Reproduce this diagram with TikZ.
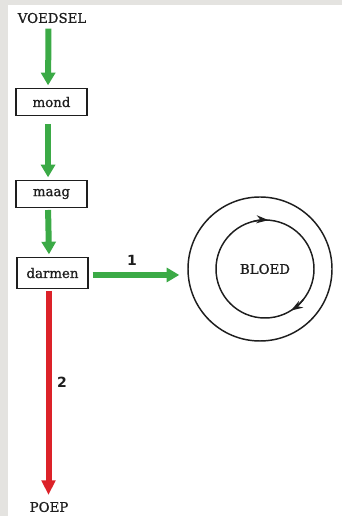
\documentclass[tikz,border=0pt]{standalone}
\usepackage{fontspec}
\setmainfont{DejaVu Serif}
\newfontfamily\labfont{DejaVu Serif}[AutoFakeBold=0.9]
\newfontfamily\numfont{DejaVu Sans}
\usetikzlibrary{arrows.meta}
\definecolor{bggray}{HTML}{E4E3E0}
\definecolor{agreen}{HTML}{3BAA46}
\definecolor{ared}{HTML}{DC2229}
\definecolor{ink}{HTML}{1E1E1E}
\begin{document}
\begin{tikzpicture}[x=0.75pt,y=0.75pt,
  box/.style={draw=ink, line width=1pt, minimum width=53.25pt, minimum height=20pt, inner sep=0pt, text=ink, font=\labfont\bfseries\fontsize{10}{12}\selectfont},
  lbl/.style={font=\labfont\bfseries\fontsize{10}{12}\selectfont, inner sep=0pt, text=ink},
  num/.style={font=\numfont\bfseries\fontsize{10.5}{12}\selectfont, inner sep=0pt, text=ink},
  garrow/.style={draw=agreen, line width=4.5pt, -{Triangle[length=9.5pt,width=10.5pt]}},
  rarrow/.style={draw=ared, line width=4.5pt, -{Triangle[length=11pt,width=10pt]}},
  ring/.style={circle, draw=ink, line width=1.1pt, inner sep=0pt},
  circtip/.style={draw=ink, line width=1.1pt, -{Stealth[length=9pt,width=6pt]}}
]
\fill[bggray] (0,0) rectangle (342,516);
\fill[white] (8,0) rectangle (342,511);
\useasboundingbox (0,0) rectangle (342,516);

\node[lbl] (voedsel) at (52,498) {VOEDSEL};
\node[box] (mond) at (51.5,414) {mond};
\node[box] (maag) at (51.5,322) {maag};
\node[box, minimum height=23pt] (darmen) at (52.5,243) {darmen};
\node[lbl] (poep) at (49,9) {POEP};
\node[ring, minimum size=108pt] (outer) at (260,247) {};
\node[ring, minimum size=73.5pt, lbl] (bloed) at (265,247) {BLOED};

\draw[garrow, shorten <=4pt, shorten >=2pt] ([xshift=-2.6pt]voedsel.south) -- ([xshift=-2.6pt]mond.north);
\draw[garrow, shorten <=6pt, shorten >=2pt] ([xshift=-2.6pt]mond.south) -- ([xshift=-2.6pt]maag.north);
\draw[garrow, shorten <=1.5pt, shorten >=2pt] ([xshift=-2.6pt]maag.south) -- ([xshift=-2.6pt]darmen.north);
\draw[rarrow, shorten <=1.5pt, shorten >=5pt] ([xshift=-3pt]darmen.south) -- ([xshift=-3pt]darmen.south |- poep.north);
\draw[garrow, shorten <=3pt, shorten >=6pt] ([yshift=-1.5pt]darmen.east) -- ([yshift=-1.5pt]darmen.east -| outer.west);

\node[num] (n1) at (132,256) {1};
\node[num] (n2) at (62,134) {2};

\draw[circtip] (bloed.center) ++(104:49) arc[start angle=104, end angle=86, radius=49];
\draw[circtip] (bloed.center) ++(-38:49) arc[start angle=-38, end angle=-58, radius=49];
\end{tikzpicture}
\end{document}
